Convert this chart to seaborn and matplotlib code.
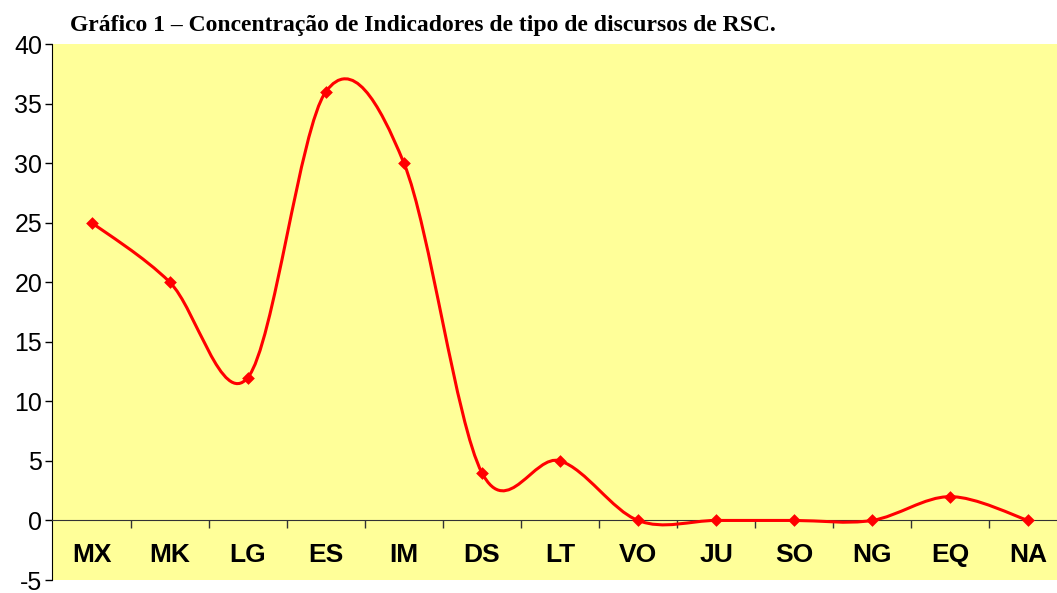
import matplotlib
matplotlib.use("Agg")
import matplotlib.pyplot as plt
from matplotlib.path import Path
from matplotlib.patches import PathPatch
import pandas as pd
import seaborn as sns

# data
categories = ["MX", "MK", "LG", "ES", "IM", "DS", "LT", "VO", "JU", "SO", "NG", "EQ", "NA"]
values = [25, 20, 12, 36, 30, 4, 5, 0, 0, 0, 0, 2, 0]
yticks = [-5, 0, 5, 10, 15, 20, 25, 30, 35, 40]
title = "Gráfico 1 – Concentração de Indicadores de tipo de discursos de RSC."

positions = list(range(len(categories)))
df = pd.DataFrame({"pos": positions, "val": values})

sns.set_style("white")
plt.rcParams["font.family"] = ["Liberation Sans", "DejaVu Sans"]
plt.rcParams["axes.unicode_minus"] = False

fig = plt.figure(figsize=(10.57, 5.93), dpi=100)
ax = fig.add_axes([52 / 1057, 13 / 593, 1 - 52 / 1057, (580 - 44) / 593])
ax.set_facecolor("#FFFF99")

# smoothed line like Excel (cubic bezier through the points)
pts = list(zip(positions, values))
verts = [pts[0]]
codes = [Path.MOVETO]
n = len(pts)
for i in range(n - 1):
    p0 = pts[i - 1] if i > 0 else pts[i]
    p1 = pts[i]
    p2 = pts[i + 1]
    p3 = pts[i + 2] if i + 2 < n else pts[i + 1]
    c1 = (p1[0] + (p2[0] - p0[0]) / 6, p1[1] + (p2[1] - p0[1]) / 6)
    c2 = (p2[0] - (p3[0] - p1[0]) / 6, p2[1] - (p3[1] - p1[1]) / 6)
    verts += [c1, c2, p2]
    codes += [Path.CURVE4] * 3
ax.add_patch(PathPatch(Path(verts, codes), facecolor="none", edgecolor="#FF0000",
                       lw=2.2, zorder=3))

sns.scatterplot(data=df, x="pos", y="val", marker="D", color="#FF0000", s=42,
                edgecolor="#FF0000", linewidth=0, zorder=4, ax=ax)

# spines first: moving a spine resets the ticks
ax.spines["bottom"].set_position(("data", 0))
ax.spines["bottom"].set_color("#333333")
ax.spines["left"].set_color("black")
ax.spines["top"].set_visible(False)
ax.spines["right"].set_visible(False)
ax.set_xlabel("")
ax.set_ylabel("")

ax.set_xlim(-0.51, 12.37)
ax.set_ylim(-5, 40)
ax.tick_params(axis="y", labelsize=18, length=5, width=1, direction="out",
               left=True, pad=2, color="black", labelcolor="black")
ax.tick_params(axis="x", which="major", length=0, pad=16, labelsize=19,
               labelcolor="black")
ax.tick_params(axis="x", which="minor", length=6, width=1, direction="out",
               bottom=True, color="#333333")
ax.set_yticks(yticks)
ax.set_xticks([p + 0.5 for p in positions[:-1]], minor=True)
ax.set_xticks(positions, categories, fontsize=19, fontweight="bold", color="black")

fig.text(70 / 1057, 1 - 25 / 593, title, family=["Liberation Serif", "DejaVu Serif"],
         fontweight="bold", fontsize=17, ha="left", va="center", color="black")

fig.savefig("out.png", dpi=100)
